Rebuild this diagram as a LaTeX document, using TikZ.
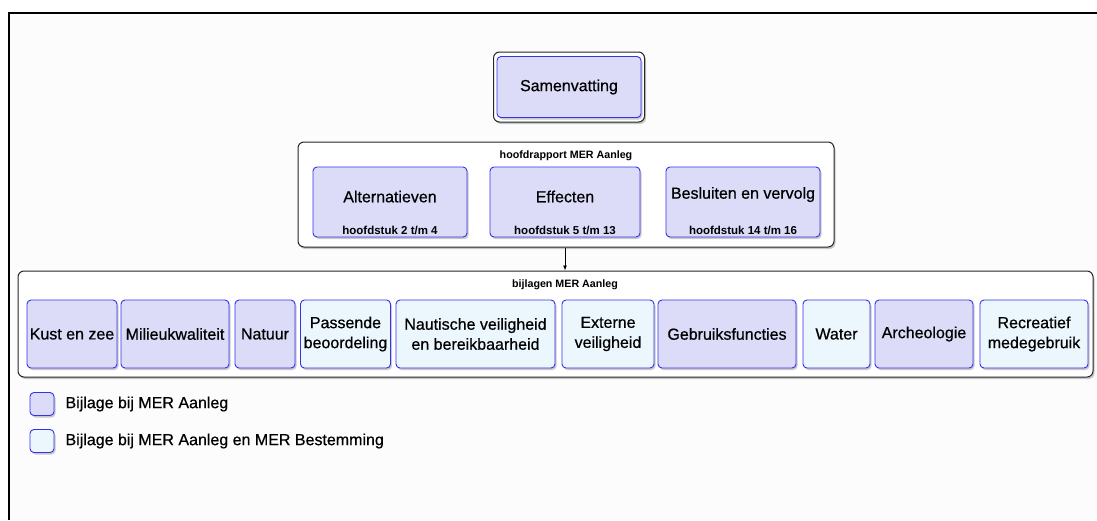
\documentclass[tikz,border=0pt]{standalone}
\usepackage{fontspec}
\setmainfont{Liberation Sans}
\newfontfamily\heavy[FakeBold=0.6]{Liberation Sans}
\usetikzlibrary{shadows,calc,arrows.meta}
\definecolor{lav}{RGB}{220,220,248}
\definecolor{lightc}{RGB}{236,246,253}
\definecolor{bord}{RGB}{50,50,240}
\definecolor{bg}{RGB}{252,252,252}
\tikzset{
  shad/.style={drop shadow={shadow xshift=1.5pt,shadow yshift=-2pt,opacity=0.35,fill=black!60}},
  abox/.style={draw=bord,line width=0.9pt,rounded corners=4pt,fill=lav,shad,inner sep=2pt,align=center,
    font=\heavy\fontsize{16}{20}\selectfont},
  bbox/.style={abox,fill=lightc},
  container/.style={draw=black!85,line width=1pt,rounded corners=6pt,fill=white,shad},
  ttl/.style={font=\fontsize{10.7}{12}\selectfont\bfseries},
  mainlbl/.style={font=\heavy\fontsize{16}{18}\selectfont},
  sublbl/.style={font=\fontsize{11.5}{13}\selectfont\bfseries},
  leglbl/.style={font=\heavy\fontsize{16}{18}\selectfont,anchor=west},
}
\begin{document}
\begin{tikzpicture}[x=1pt,y=-1pt]
\useasboundingbox (0,0) rectangle (1097,520);
\fill[bg] (9,13) rectangle (1097,520);
\draw[line width=2pt] (9,520) -- (9,13) -- (1097,13);

% Samenvatting
\node[container,minimum width=151pt,minimum height=70pt] (samo) at (569,87) {};
\node[abox,minimum width=144pt,minimum height=61pt] (sam) at (569,87) {Samenvatting};

% hoofdrapport
\node[container,minimum width=536pt,minimum height=105pt] (hoofd) at (566,194.5) {};
\node[ttl] (hoofdt) at (566,156) {hoofdrapport MER Aanleg};
\node[abox,minimum width=154pt,minimum height=70pt] (alt) at (390,202) {};
\node[abox,minimum width=150pt,minimum height=70pt] (eff) at (565,202) {};
\node[abox,minimum width=154pt,minimum height=70pt] (bes) at (743,202) {};
\node[mainlbl] (altm) at ($(alt.north)+(0,30)$) {Alternatieven};
\node[sublbl] (alts) at ($(alt.south)+(0,-7)$) {hoofdstuk 2 t/m 4};
\node[mainlbl] (effm) at ($(eff.north)+(0,30)$) {Effecten};
\node[sublbl] (effs) at ($(eff.south)+(0,-7)$) {hoofdstuk 5 t/m 13};
\node[mainlbl] (besm) at ($(bes.north)+(0,28)$) {Besluiten en vervolg};
\node[sublbl] (bess) at ($(bes.south)+(0,-7)$) {hoofdstuk 14 t/m 16};

% bijlagen
\node[container,minimum width=1075pt,minimum height=106pt] (bij) at (555.5,324) {};
\node[ttl] (bijt) at (565,285) {bijlagen MER Aanleg};
\node[abox,minimum width=90pt,minimum height=68pt] (b1) at (72,334) {Kust en zee};
\node[abox,minimum width=108pt,minimum height=68pt] (b2) at (175,334) {Milieukwaliteit};
\node[abox,minimum width=60pt,minimum height=68pt] (b3) at (265,334) {Natuur};
\node[bbox,minimum width=90pt,minimum height=68pt] (b4) at (345.5,334) {Passende\\beoordeling};
\node[bbox,minimum width=159pt,minimum height=68pt] (b5) at (475.5,334) {Nautische veiligheid\\en bereikbaarheid};
\node[bbox,minimum width=92pt,minimum height=68pt] (b6) at (608,334) {Externe\\veiligheid};
\node[abox,minimum width=138pt,minimum height=68pt] (b7) at (727,334) {Gebruiksfuncties};
\node[bbox,minimum width=67pt,minimum height=68pt] (b8) at (836.5,334) {Water};
\node[abox,minimum width=98pt,minimum height=68pt] (b9) at (924,334) {Archeologie};
\node[bbox,minimum width=108pt,minimum height=68pt] (b10) at (1034,334) {Recreatief\\medegebruik};

\draw[-{Latex[length=5pt,width=4pt]},line width=0.8pt] (hoofd.south -| bijt) -- (bijt |- bij.north);

% legend
\node[abox,minimum width=24pt,minimum height=23pt] (l1) at (42,404) {};
\node[bbox,minimum width=24pt,minimum height=23pt] (l2) at (42,441) {};
\node[leglbl] (l1t) at (62,404) {Bijlage bij MER Aanleg};
\node[leglbl] (l2t) at (62,441) {Bijlage bij MER Aanleg en MER Bestemming};
\end{tikzpicture}
\end{document}
